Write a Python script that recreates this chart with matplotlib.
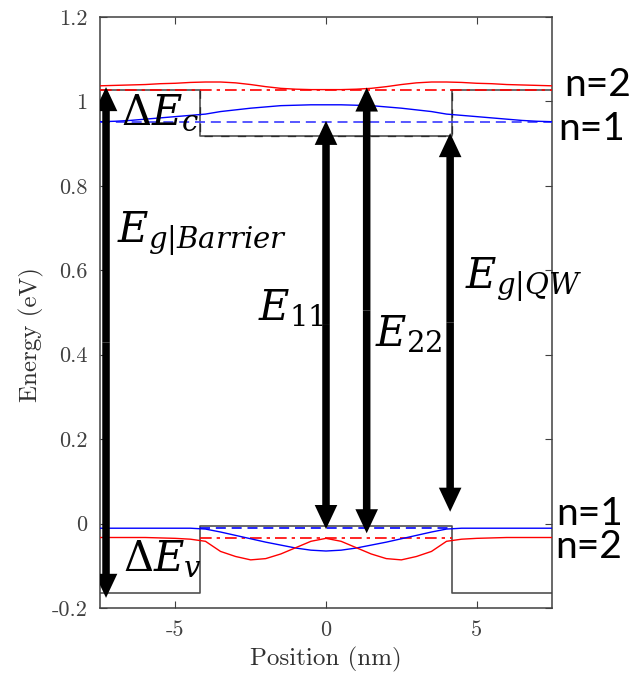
import numpy as np
import matplotlib
matplotlib.use('Agg')
import matplotlib.pyplot as plt

plt.rcParams['font.family'] = 'cmr10'
plt.rcParams['axes.unicode_minus'] = False
plt.rcParams['mathtext.fontset'] = 'dejavuserif'

# band profile (nm, eV)
edge_x = [-7.5, -4.17, -4.17, 4.17, 4.17, 7.5]
cb_edge = [1.026, 1.026, 0.917, 0.917, 1.026, 1.026]
vb_edge = [-0.165, -0.165, -0.005, -0.005, -0.165, -0.165]

# energy levels
e1_level, e2_level = 0.952, 1.028
h1_level, h2_level = -0.011, -0.033

# |psi|^2 drawn at the levels, read every 0.5 nm
pos = np.arange(-7.5, 7.51, 0.5)
e1_half = [0.952, 0.953, 0.955, 0.958, 0.961, 0.964, 0.967, 0.970,
           0.976, 0.980, 0.984, 0.987, 0.990, 0.991, 0.992, 0.992]
e2_half = [1.037, 1.038, 1.039, 1.040, 1.042, 1.043, 1.045, 1.046,
           1.046, 1.044, 1.040, 1.035, 1.031, 1.029, 1.028, 1.028]
h1_half = [-0.011, -0.011, -0.011, -0.011, -0.011, -0.011, -0.011, -0.013,
           -0.020, -0.028, -0.036, -0.044, -0.051, -0.058, -0.063, -0.065]
h2_half = [-0.033, -0.033, -0.033, -0.033, -0.034, -0.035, -0.037, -0.042,
           -0.066, -0.078, -0.086, -0.083, -0.072, -0.057, -0.042, -0.035]

def mirror(half):
    return half + half[-2::-1]

e1_wf = mirror(e1_half)
e2_wf = mirror(e2_half)
h1_wf = mirror(h1_half)
h2_wf = mirror(h2_half)

# transition arrows: x, bottom tip, top tip
arrow_x = [-7.3, 0.0, 1.35, 4.12]
arrow_lo = [-0.176, -0.013, -0.023, 0.028]
arrow_hi = [1.034, 0.954, 1.033, 0.925]

# labels
lab_txt = [r'$\Delta E_c$', r'$E_{g|Barrier}$', r'$E_{11}$', r'$E_{22}$',
           r'$E_{g|QW}$', r'$\Delta E_v$']
lab_x = [-6.8, -6.94, -2.26, 1.63, 4.61, -6.74]
lab_y = [0.945, 0.665, 0.482, 0.419, 0.558, -0.114]

n_txt = ['n=2', 'n=1', 'n=1', 'n=2']
n_x = [7.9, 7.7, 7.65, 7.6]
n_y = [1.012, 0.909, -0.003, -0.082]

fig = plt.figure(figsize=(6.33, 6.77), dpi=100)
ax = fig.add_axes([100/633, 1 - 608/677, 452/633, 591/677])

ax.plot(edge_x, cb_edge, color='#505050', lw=1.2, zorder=2)
ax.plot(edge_x, vb_edge, color='#505050', lw=1.2, zorder=2)
ax.plot(edge_x[1:5], cb_edge[1:5], color='k', lw=1.0, ls=(0, (6, 6)), alpha=0.6, zorder=2)

ax.axhline(e1_level, color='#3a3aff', lw=1.2, ls=(0, (6, 3.5)), zorder=3)
ax.axhline(e2_level, color='red', lw=1.2, ls=(0, (7, 3, 2, 3)), zorder=3)
ax.plot([-4.17, 4.17], [h1_level, h1_level], color='blue', lw=1.2, ls=(0, (6, 3.5)), zorder=3)
ax.plot([-4.17, 4.17], [h2_level, h2_level], color='red', lw=1.2, ls=(0, (7, 3, 2, 3)), zorder=3)

ax.plot(pos, e1_wf, color='blue', lw=1.0, zorder=4)
ax.plot(pos, e2_wf, color='red', lw=1.0, zorder=4)
ax.plot(pos, h1_wf, color='blue', lw=1.0, zorder=4)
ax.plot(pos, h2_wf, color='red', lw=1.0, zorder=4)

for xa, lo, hi in zip(arrow_x, arrow_lo, arrow_hi):
    mid = 0.5 * (lo + hi)
    for end in (lo, hi):
        ax.arrow(xa, mid, 0, end - mid, width=0.25, head_width=0.75,
                 head_length=0.057, length_includes_head=True,
                 color='k', lw=0, zorder=6)

for t, x, y in zip(lab_txt, lab_x, lab_y):
    ax.text(x, y, t, fontsize=30, math_fontfamily='dejavuserif', ha='left',
            va='baseline', zorder=7)

for t, x, y in zip(n_txt, n_x, n_y):
    ax.text(x, y, t, fontsize=28, family='Lato', ha='left', va='baseline',
            clip_on=False)

ax.set_xlim(-7.5, 7.5)
ax.set_ylim(-0.2, 1.2)
ax.set_xticks([-5, 0, 5])
ax.set_xticklabels(['-5', '0', '5'])
ax.set_yticks([-0.2, 0, 0.2, 0.4, 0.6, 0.8, 1.0, 1.2])
ax.set_yticklabels(['-0.2', '0', '0.2', '0.4', '0.6', '0.8', '1', '1.2'])
ax.tick_params(direction='in', top=True, right=True, length=5, width=0.8,
               colors='#404040', labelsize=16, pad=9)
for s in ax.spines.values():
    s.set_color('#404040')
    s.set_linewidth(1.1)

ax.set_xlabel('Position (nm)', fontsize=18, color='#303030')
ax.set_ylabel('Energy (eV)', fontsize=18, color='#303030')
ax.xaxis.set_label_coords(0.5, -0.066)
ax.yaxis.set_label_coords(-0.125, 0.462)

fig.savefig('out.png', dpi=100)
